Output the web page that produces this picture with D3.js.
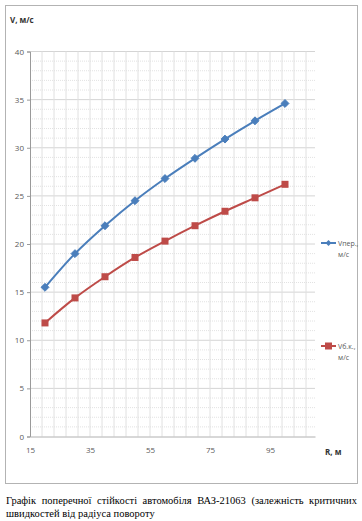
<!DOCTYPE html>
<html>
<head>
<meta charset="utf-8">
<script src="https://cdn.jsdelivr.net/npm/d3@7"></script>
<style>
  body { margin: 0; background: #fff; }
  #caption {
    position: absolute; left: 6px; top: 494px; width: 351px;
    font-family: "Liberation Serif", "DejaVu Serif", serif; font-size: 10.5px; line-height: 13px;
    text-align: justify; color: #000;
  }
</style>
</head>
<body>
<div id="container"></div>
<div id="caption">Графік поперечної стійкості автомобіля ВАЗ-21063 (залежність критичних швидкостей від радіуса повороту</div>
<script>
let radius = [20, 30, 40, 50, 60, 70, 80, 90, 100];
let vPer = [15.5, 19.0, 21.9, 24.5, 26.8, 28.9, 30.9, 32.8, 34.6];
let vBk = [11.8, 14.4, 16.6, 18.6, 20.3, 21.9, 23.4, 24.8, 26.2];
let xTicks = [15, 35, 55, 75, 95];
let yTicks = [0, 5, 10, 15, 20, 25, 30, 35, 40];
let seriesNames = ["Vпер., м/с", "Vб.к., м/с"];

let svg = d3.select("#container")
  .append("svg")
    .attr("width", 362)
    .attr("height", 490)
;

// chart frame
svg.append("rect")
  .attr("x", 5.5).attr("y", 5.5)
  .attr("width", 352).attr("height", 478)
  .attr("fill", "none")
  .attr("stroke", "#b3b3b3");

let x = d3.scaleLinear().domain([15, 110]).range([30, 315]);
let y = d3.scaleLinear().domain([0, 40]).range([436.5, 51.5]);

let grid = svg.append("g");

// gridlines
grid.selectAll(".hmin").data(d3.range(1, 41)).enter()
  .append("line")
    .attr("x1", 30).attr("x2", 315)
    .attr("y1", d => y(d)).attr("y2", d => y(d))
    .attr("stroke", d => d % 5 == 0 ? "#d4d4d4" : "#e2e2e2")
    .attr("stroke-dasharray", d => d % 5 == 0 ? null : "1,1");

grid.selectAll(".vmin").data(d3.range(19, 111, 4)).enter()
  .append("line")
    .attr("x1", d => x(d)).attr("x2", d => x(d))
    .attr("y1", y(40)).attr("y2", y(0))
    .attr("stroke", "#e0e0e0");

// y axis
let yAxis = svg.append("g")
  .attr("transform", "translate(30,0)")
  .call(d3.axisLeft(y).tickValues(yTicks).tickSize(3).tickFormat(d3.format("d")));
yAxis.select(".domain").attr("stroke", "#9a9a9a");
yAxis.selectAll(".tick line").attr("stroke", "#9a9a9a");
yAxis.selectAll("text")
  .attr("fill", "#595959")
  .style("font-family", "'Open Sans', sans-serif")
  .style("font-size", "8px");

// x axis
let xAxis = svg.append("g")
  .attr("transform", "translate(0," + y(0) + ")")
  .call(d3.axisBottom(x).tickValues(xTicks).tickSize(0).tickPadding(11));
xAxis.select(".domain").attr("stroke", "#b0b0b0");
xAxis.selectAll("text")
  .attr("fill", "#595959")
  .style("font-family", "'Open Sans', sans-serif")
  .style("font-size", "8px");

svg.append("text")
  .attr("x", 10).attr("y", 23)
  .attr("font-family", "'Open Sans', sans-serif")
  .attr("font-size", "8px").attr("font-weight", "bold")
  .attr("fill", "#333")
  .text("V, м/с");

svg.append("text")
  .attr("x", 325).attr("y", 455)
  .attr("font-family", "'Open Sans', sans-serif")
  .attr("font-size", "8px").attr("font-weight", "bold")
  .attr("fill", "#333")
  .text("R, м");

let line = d3.line().curve(d3.curveCatmullRom)
  .x(d => x(d[0]))
  .y(d => y(d[1]));

let blueData = radius.map((r, i) => [r, vPer[i]]);
let redData = radius.map((r, i) => [r, vBk[i]]);

svg.append("path")
  .attr("d", line(blueData))
  .attr("fill", "none").attr("stroke", "#4a7ebb").attr("stroke-width", 2);

svg.append("path")
  .attr("d", line(redData))
  .attr("fill", "none").attr("stroke", "#be4b48").attr("stroke-width", 2);

let diamond = d3.symbol().type(d3.symbolDiamond2).size(40);

svg.selectAll(".bluept").data(blueData).enter()
  .append("path")
    .attr("d", diamond)
    .attr("transform", d => "translate(" + x(d[0]) + "," + y(d[1]) + ")")
    .attr("fill", "#4a7ebb").attr("stroke", "#4a7ebb");

svg.selectAll(".redpt").data(redData).enter()
  .append("rect")
    .attr("x", d => x(d[0]) - 3.5).attr("y", d => y(d[1]) - 3.5)
    .attr("width", 7).attr("height", 7)
    .attr("fill", "#be4b48");

// legend
let legend = [
  {name: seriesNames[0], color: "#4a7ebb", y: 243, shape: "diamond"},
  {name: seriesNames[1], color: "#be4b48", y: 346, shape: "square"}
];

let items = svg.selectAll(".legend").data(legend).enter()
  .append("g")
    .attr("transform", d => "translate(0," + d.y + ")");

items.append("line")
  .attr("x1", 321).attr("x2", 336)
  .attr("stroke", d => d.color).attr("stroke-width", 2);

items.each(function(d){
  let g = d3.select(this);
  if (d.shape == "diamond") {
    g.append("path").attr("d", d3.symbol().type(d3.symbolDiamond2).size(22))
      .attr("transform", "translate(328.5,0)").attr("fill", d.color);
  } else {
    g.append("rect").attr("x", 325).attr("y", -3.5).attr("width", 7).attr("height", 7)
      .attr("fill", d.color);
  }
  let parts = d.name.split(" ");
  g.append("text").attr("x", 338).attr("y", 3)
    .attr("font-family", "'Open Sans', sans-serif").attr("font-size", "7px")
    .attr("fill", "#595959").text(parts[0]);
  g.append("text").attr("x", 338).attr("y", 14)
    .attr("font-family", "'Open Sans', sans-serif").attr("font-size", "7px")
    .attr("fill", "#595959").text(parts[1]);
});
</script>
</body>
</html>
